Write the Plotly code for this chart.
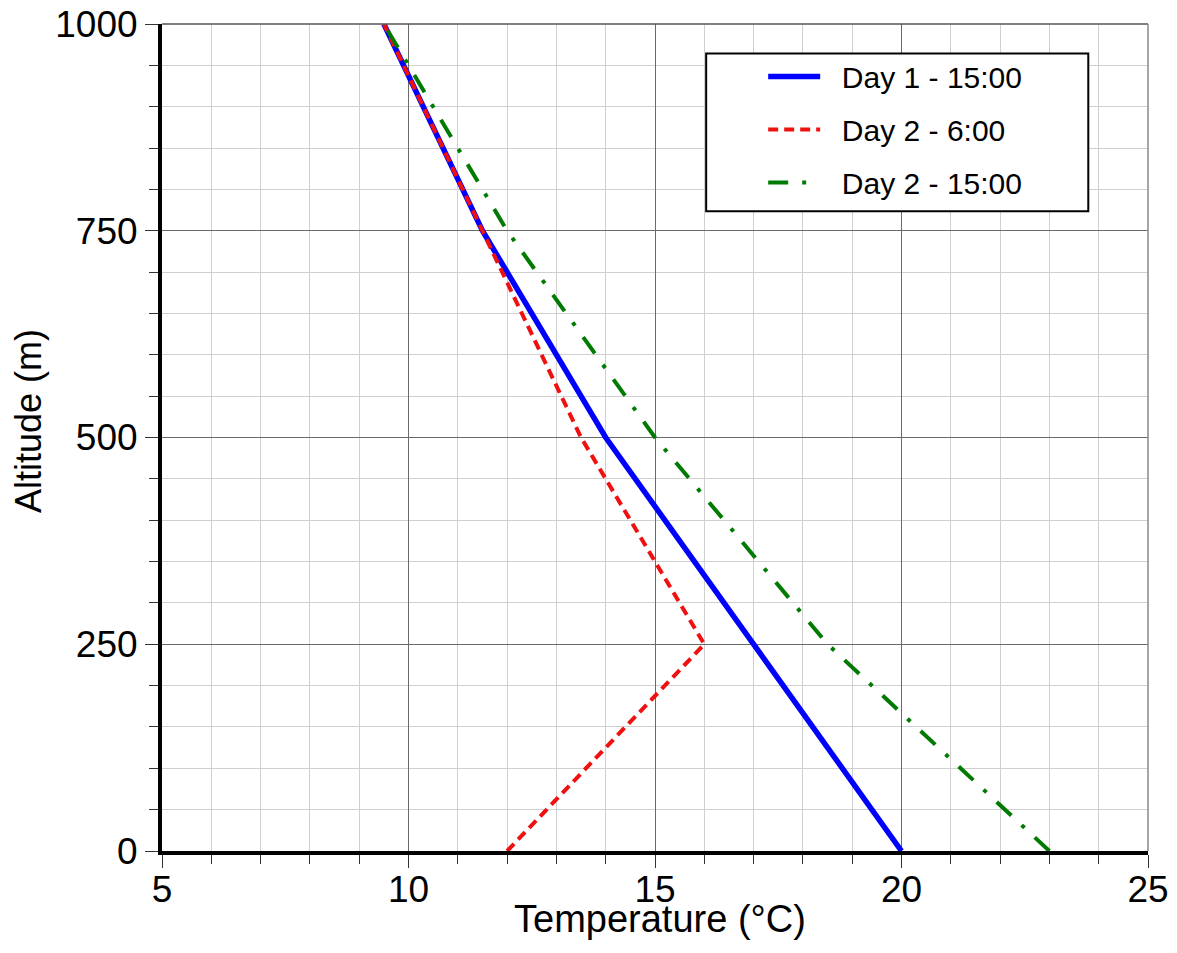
import plotly.graph_objects as go

# ---- data ----
altitude = [0, 250, 500, 750, 1000]
temp_day1_15 = [20, 17, 14, 11.5, 9.5]
temp_day2_06 = [12, 16, 13.5, 11.5, 9.5]
temp_day2_15 = [23, 18.5, 15, 12, 9.5]
series_names = ["Day 1 - 15:00", "Day 2 - 6:00", "Day 2 - 15:00"]
x_ticks = [5, 10, 15, 20, 25]
y_ticks = [0, 250, 500, 750, 1000]

FONT = "Liberation Sans, Arial, Helvetica, sans-serif"

OFF = 8  # default page body margin
W, H = 1161, 937
# desired plot box in page pixels: left 162, top 23.5, right 1147.7, bottom 851.5
L, T = 162 - OFF, 23.5 - OFF
R = W - (1147.7 - OFF)
B = H - (851.5 - OFF)
pw, ph = W - L - R, H - T - B

def px_x(p):
    return (p - OFF - L) / pw

def px_y(p):
    return (H - B - (p - OFF)) / ph

PAD = "\u00a0\u00a0"

fig = go.Figure()
fig.add_trace(go.Scatter(x=temp_day1_15, y=altitude, mode="lines", name=PAD + series_names[0],
                         legendgroup="a",
                         line=dict(color="#0000ff", width=5.5)))
fig.add_trace(go.Scatter(x=temp_day2_06, y=altitude, mode="lines", name=PAD + series_names[1],
                         legendgroup="b",
                         line=dict(color="#f01010", width=4, dash="10px,6px")))
fig.add_trace(go.Scatter(x=temp_day2_15, y=altitude, mode="lines", name=PAD + series_names[2],
                         legendgroup="c",
                         line=dict(color="#007a00", width=4, dash="20px,14px,4px,14px")))

axis_common = dict(
    showgrid=True, gridcolor="#6a6a6a", gridwidth=1.3,
    zeroline=False, automargin=False,
    showline=True, linecolor="black", linewidth=4,
    ticks="outside", ticklen=13, tickwidth=1, tickcolor="#333",
    ticklabeloverflow="allow",
    tickfont=dict(family=FONT, size=37, color="black"),
)

fig.update_xaxes(range=[5, 25], tickvals=x_ticks, ticklabelstandoff=-10,
                 minor=dict(dtick=1, showgrid=True, gridcolor="#cfcfcf", gridwidth=1,
                            ticks="outside", ticklen=9, tickcolor="#333"),
                 **axis_common)
fig.update_yaxes(range=[0, 1000], tickvals=y_ticks,
                 minor=dict(dtick=50, showgrid=True, gridcolor="#cfcfcf", gridwidth=1,
                            ticks="outside", ticklen=9, tickcolor="#333"),
                 **axis_common)

shapes = [
    # top and right frame lines
    dict(type="line", xref="paper", yref="paper", x0=0, x1=1, y0=1, y1=1,
         line=dict(color="#555", width=1.5)),
    dict(type="line", xref="paper", yref="paper", x0=1, x1=1, y0=0, y1=1,
         line=dict(color="#888", width=1.5)),
    # legend box
    dict(type="rect", xref="paper", yref="paper", layer="above",
         x0=px_x(706), x1=px_x(1088), y0=px_y(211), y1=px_y(53),
         fillcolor="white", line=dict(color="black", width=2)),
]

annotations = [
    dict(text="Temperature (°C)", xref="paper", yref="paper", x=px_x(660), y=px_y(920),
         xanchor="center", yanchor="middle", showarrow=False,
         font=dict(family=FONT, size=38, color="black")),
    dict(text="Altitude (m)", xref="paper", yref="paper", x=px_x(28), y=px_y(421),
         xanchor="center", yanchor="middle", showarrow=False, textangle=-90,
         font=dict(family=FONT, size=36, color="black")),
]

fig.update_layout(
    width=W, height=H,
    margin=dict(l=L, r=R, t=T, b=B, pad=0, autoexpand=False),
    plot_bgcolor="white", paper_bgcolor="white",
    shapes=shapes, annotations=annotations,
    showlegend=True,
    legend=dict(x=px_x(763), y=px_y(50), xanchor="left", yanchor="top",
                bgcolor="rgba(0,0,0,0)", borderwidth=0,
                traceorder="grouped", tracegroupgap=11, itemwidth=52,
                font=dict(family=FONT, size=30, color="black")),
)

fig.write_html("out.html")
